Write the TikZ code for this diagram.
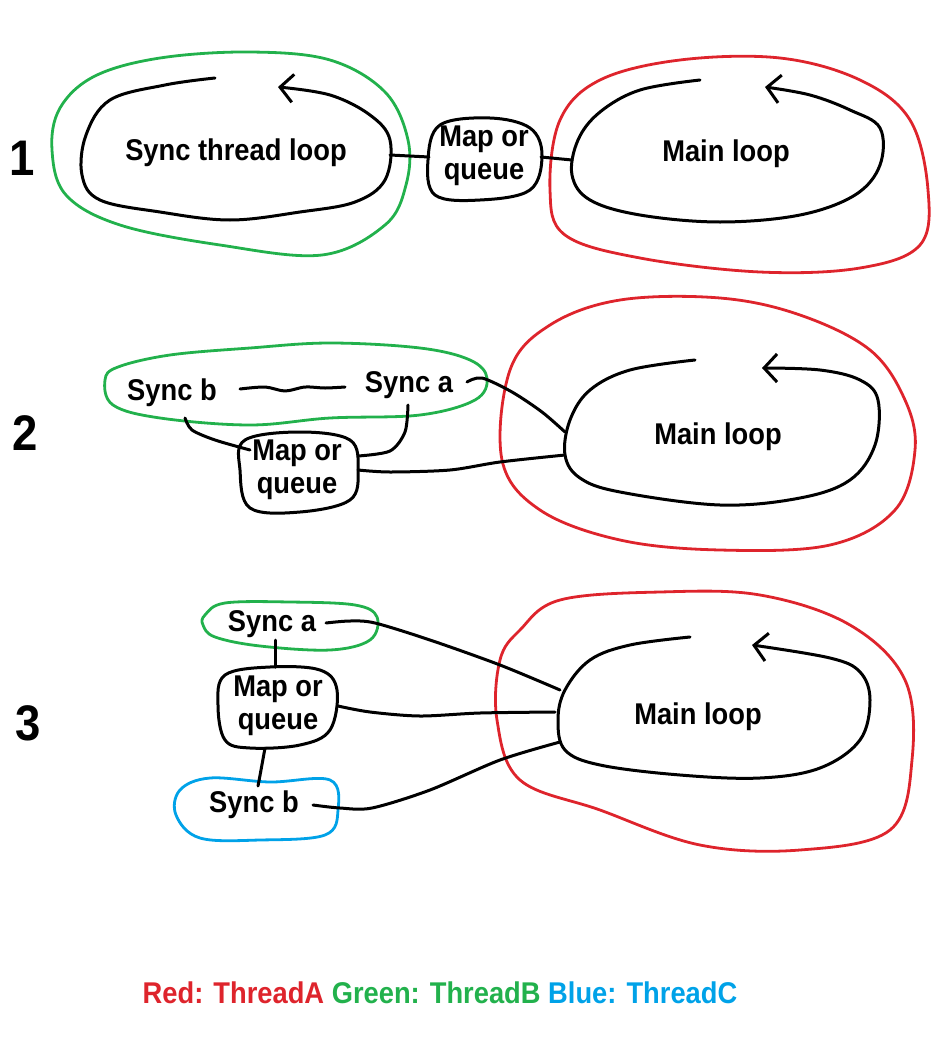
\documentclass[tikz,border=0pt]{standalone}
\usepackage{fontspec}
\setmainfont{Liberation Sans}[FakeStretch=0.91]
\usetikzlibrary{arrows.meta}
\definecolor{threadA}{RGB}{222,36,44}
\definecolor{threadB}{RGB}{34,177,76}
\definecolor{threadC}{RGB}{0,162,232}
\tikzset{
 pen/.style={line width=3pt,line cap=round,line join=round},
 ring/.style={line width=2.8pt,line join=round},
 cycleloop/.style={pen,-{Straight Barb[length=13pt,width=28pt]}},
 lbl/.style={font=\fontsize{30}{33}\selectfont\bfseries,inner sep=0pt,align=center},
 num/.style={font=\fontsize{50}{50}\selectfont\bfseries,inner sep=0pt},
}
\begin{document}
\begin{tikzpicture}[x=1pt,y=-1pt]
 \useasboundingbox (0,0) rectangle (950,1052);

 % ---- 1 ----
 \node[num] (n1) at (22,158) {1};
 \draw[ring,threadB] plot[smooth cycle,tension=0.6] coordinates {(52,150) (60,108) (95,76) (160,58) (250,52) (330,60) (385,92) (408,140) (406,185) (385,225) (322,255) (220,245) (120,225) (66,195)};
 \draw[cycleloop] plot[smooth,tension=0.6] coordinates {(215,78) (165,85) (110,100) (86,135) (82,175) (100,200) (160,212) (230,220) (300,212) (355,202) (385,180) (390,140) (370,115) (330,95) (278,87)};
 \node[lbl] (st1) at (236,153) {Sync thread loop};
 \draw[pen] plot[smooth cycle,tension=0.6] coordinates {(440,125) (490,118) (530,128) (542,155) (530,190) (480,200) (435,195) (428,160)};
 \node[lbl] (mq1) at (484,156) {Map or\\queue};
 \draw[ring,threadA] plot[smooth cycle,tension=0.6] coordinates {(560,120) (600,80) (680,60) (780,58) (860,80) (910,120) (928,190) (920,245) (860,268) (760,272) (640,258) (565,235) (550,190)};
 \draw[cycleloop] plot[smooth,tension=0.6] coordinates {(700,80) (640,90) (600,112) (578,140) (572,175) (590,200) (640,215) (720,222) (800,215) (855,195) (880,165) (880,128) (850,110) (810,95) (765,87)};
 \node[lbl] (ml1) at (726,154) {Main loop};
 \coordinate (st1r) at (390,155);
 \coordinate (mq1l) at (429,157);
 \coordinate (mq1r) at (541,157);
 \coordinate (ml1l) at (572,160);
 \draw[pen] (st1r) -- (mq1l);
 \draw[pen] (mq1r) -- (ml1l);

 % ---- 2 ----
 \node[num] (n2) at (25,433) {2};
 \draw[ring,threadB] plot[smooth cycle,tension=0.6] coordinates {(105,380) (118,367) (170,355) (250,348) (330,343) (420,348) (470,360) (487,378) (475,400) (420,415) (330,418) (250,425) (160,418) (113,405)};
 \node[lbl] (sb2) at (172,393) {Sync b};
 \node[lbl] (sa2) at (409,385) {Sync a};
 \draw[pen] plot[smooth cycle,tension=0.6] coordinates {(245,440) (300,432) (350,440) (358,470) (350,500) (300,512) (250,508) (240,470)};
 \node[lbl] (mq2) at (297,470) {Map or\\queue};
 \draw[ring,threadA] plot[smooth cycle,tension=0.6] coordinates {(510,370) (550,325) (620,300) (720,298) (800,315) (870,350) (905,400) (915,450) (895,510) (830,545) (720,550) (620,540) (540,510) (502,460)};
 \draw[cycleloop] plot[smooth,tension=0.6] coordinates {(695,360) (630,370) (590,390) (570,420) (565,455) (580,478) (620,492) (720,505) (800,498) (850,480) (875,445) (878,400) (860,380) (820,370) (762,368)};
 \node[lbl] (ml2) at (718,437) {Main loop};
 \coordinate (sb2r) at (240,389);
 \coordinate (sa2l) at (345,387);
 \coordinate (sb2s) at (185,418);
 \coordinate (sa2s) at (408,405);
 \coordinate (sa2e) at (467,382);
 \coordinate (mq2n) at (250,450);
 \coordinate (mq2e) at (358,456);
 \coordinate (mq2r) at (358,470);
 \coordinate (ml2a) at (565,432);
 \coordinate (ml2b) at (565,455);
 \draw[pen] plot[smooth] coordinates {(sb2r) (265,387) (285,391) (305,387) (325,388) (sa2l)};
 \draw[pen] plot[smooth] coordinates {(sb2s) (192,430) (215,440) (mq2n)};
 \draw[pen] plot[smooth] coordinates {(sa2s) (405,432) (390,451) (mq2e)};
 \draw[pen] plot[smooth] coordinates {(mq2r) (390,472) (450,470) (500,462) (ml2b)};
 \draw[pen] plot[smooth] coordinates {(sa2e) (482,378) (512,392) (542,412) (ml2a)};

 % ---- 3 ----
 \node[num] (n3) at (28,723) {3};
 \draw[ring,threadB] plot[smooth cycle,tension=0.6] coordinates {(205,615) (225,603) (290,602) (355,605) (377,617) (370,640) (330,650) (260,646) (215,637) (203,625)};
 \node[lbl] (sa3) at (272,624) {Sync a};
 \draw[pen] plot[smooth cycle,tension=0.6] coordinates {(225,675) (270,667) (320,670) (337,690) (330,730) (300,745) (250,748) (225,740) (218,705)};
 \node[lbl] (mq3) at (278,706) {Map or\\queue};
 \draw[ring,threadC] plot[smooth cycle,tension=0.6] coordinates {(180,790) (210,778) (270,782) (330,780) (338,810) (325,835) (260,840) (200,838) (176,815)};
 \node[lbl] (sb3) at (254,805) {Sync b};
 \draw[ring,threadA] plot[smooth cycle,tension=0.6] coordinates {(520,630) (560,600) (660,592) (760,595) (850,625) (905,680) (912,760) (890,830) (800,850) (700,845) (600,810) (520,780) (497,720) (500,660)};
 \draw[cycleloop] plot[smooth,tension=0.6] coordinates {(690,637) (630,645) (590,660) (565,690) (558,720) (565,750) (600,765) (680,775) (760,778) (820,768) (860,740) (870,700) (860,672) (830,658) (752,645)};
 \node[lbl] (ml3) at (698,717) {Main loop};
 \coordinate (sa3s) at (275,640);
 \coordinate (mq3n) at (275,667);
 \coordinate (mq3s) at (265,748);
 \coordinate (sb3n) at (258,786);
 \coordinate (sa3e) at (326,623);
 \coordinate (mq3e) at (338,706);
 \coordinate (sb3e) at (313,805);
 \coordinate (ml3a) at (560,690);
 \coordinate (ml3b) at (555,712);
 \coordinate (ml3c) at (560,742);
 \draw[pen] (sa3s) -- (mq3n);
 \draw[pen] plot[smooth] coordinates {(mq3s) (261,770) (sb3n)};
 \draw[pen] plot[smooth] coordinates {(sa3e) (350,621) (375,623) (430,640) (500,665) (ml3a)};
 \draw[pen] plot[smooth] coordinates {(mq3e) (370,712) (420,716) (480,713) (ml3b)};
 \draw[pen] plot[smooth] coordinates {(sb3e) (340,808) (372,808) (430,790) (500,760) (ml3c)};

 % ---- legend ----
 \node[lbl] (key) at (440,993) {\textcolor{threadA}{Red: ThreadA} \textcolor{threadB}{Green: ThreadB} \textcolor{threadC}{Blue: ThreadC}};
\end{tikzpicture}
\end{document}
